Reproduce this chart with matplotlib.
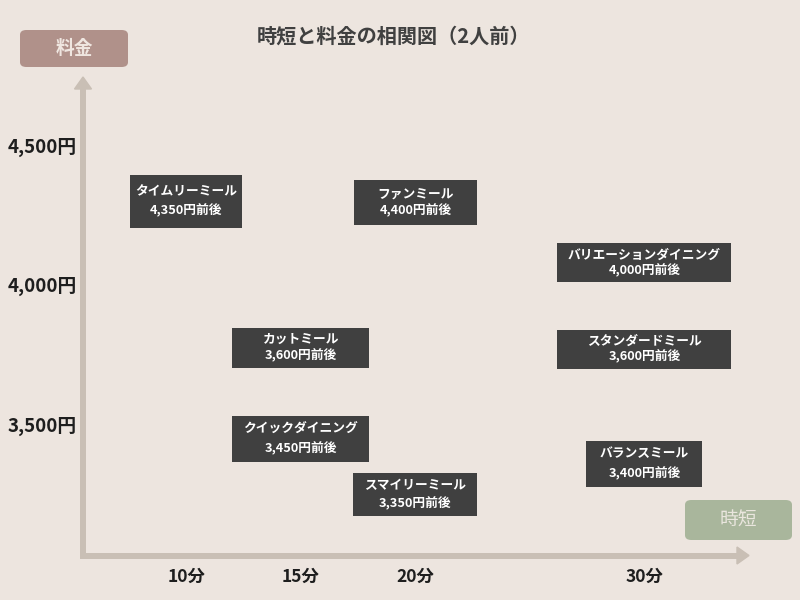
import matplotlib
matplotlib.use("Agg")
import matplotlib.pyplot as plt
from matplotlib.patches import FancyBboxPatch, Polygon, Rectangle
from matplotlib.lines import Line2D

plt.rcParams['font.family'] = ['Noto Sans CJK JP', 'DejaVu Sans']

# ---- data ----
title = "時短と料金の相関図（2人前）"
names = ["タイムリーミール", "ファンミール", "バリエーションダイニング", "カットミール",
         "スタンダードミール", "クイックダイニング", "スマイリーミール", "バランスミール"]
minutes = [10, 20, 30, 15, 30, 15, 20, 30]
# price stated in each box label
prices = [4350, 4400, 4000, 3600, 3600, 3450, 3350, 3400]
# where each box sits on the price axis
price_pos = [4305, 4300, 4085, 3780, 3775, 3455, 3255, 3365]
x_ticks = [10, 15, 20, 30]
x_tick_labels = ["10分", "15分", "20分", "30分"]
y_ticks = [4500, 4000, 3500]
y_tick_labels = ["4,500円", "4,000円", "3,500円"]
y_axis_title = "料金"
x_axis_title = "時短"

# ---- style ----
BG = "#EDE5DF"
AXC = "#C9BFB5"
BOX = "#404040"
W, H = 800, 600
box_w_px = [112, 123, 174, 137, 174, 137, 124, 116]
box_h_px = [53, 45, 39, 40, 39, 46, 43, 46]
line_sp = [1.45, 1.3, 1.2, 1.25, 1.2, 1.75, 1.45, 1.65]

fig = plt.figure(figsize=(8, 6), dpi=100, facecolor=BG)
ax = fig.add_axes([0, 0, 1, 1])
ax.set_facecolor(BG)
ax.set_xlim(1.86, 36.79)
ax.set_ylim(2876.4, 5026.9)
ax.axis('off')


def fx(px):
    return px / W


def fy(py):
    return 1 - py / H


# axes arrows (decoration, in figure fractions)
lw = 4.3
fig.add_artist(Line2D([fx(83), fx(83)], [fy(558), fy(87)], color=AXC, lw=lw,
                      solid_capstyle='butt', transform=fig.transFigure))
fig.add_artist(Line2D([fx(80), fx(738)], [fy(555.5), fy(555.5)], color=AXC, lw=lw,
                      solid_capstyle='butt', transform=fig.transFigure))
fig.add_artist(Polygon([[fx(74.5), fy(89)], [fx(91.5), fy(89)], [fx(83), fy(77)]],
                       closed=True, color=AXC, transform=fig.transFigure))
fig.add_artist(Polygon([[fx(737), fy(547)], [fx(737), fy(564)], [fx(749), fy(555.5)]],
                       closed=True, color=AXC, transform=fig.transFigure))

# axis title boxes
fig.add_artist(FancyBboxPatch((fx(20), fy(67)), fx(108), 37 / H,
                              boxstyle="round,pad=0,rounding_size=0.008",
                              fc="#B0918A", ec="none", transform=fig.transFigure))
fig.text(fx(74), fy(48.5), y_axis_title, ha='center', va='center', fontsize=13.5,
         fontweight='bold', color="#EFE6E0")
fig.add_artist(FancyBboxPatch((fx(685), fy(540)), fx(107), 40 / H,
                              boxstyle="round,pad=0,rounding_size=0.008",
                              fc="#A9B69C", ec="none", transform=fig.transFigure))
fig.text(fx(738.5), fy(520), x_axis_title, ha='center', va='center', fontsize=13.5,
         color="#EAE6DE")

# title
fig.text(fx(393), fy(36), title, ha='center', va='center', fontsize=14.5,
         fontweight='bold', color="#404040")

# tick labels through data scales
ytr = ax.get_yaxis_transform()
for v, lab in zip(y_ticks, y_tick_labels):
    ax.text(fx(77), v, lab, transform=ytr, ha='right', va='center', fontsize=13.5,
            fontweight='bold', color="#1E1E1E")
xtr = ax.get_xaxis_transform()
for m, lab in zip(x_ticks, x_tick_labels):
    ax.text(m, fy(577), lab, transform=xtr, ha='center', va='center', fontsize=12.5,
            fontweight='bold', color="#1E1E1E")

# labelled boxes: centred on the data point, sized in pixels
for n, m, p, yp, bw, bh, ls in zip(names, minutes, prices, price_pos,
                                   box_w_px, box_h_px, line_sp):
    cx, cy = ax.transData.transform((m, yp))
    ax.add_patch(Rectangle(((cx - bw / 2) / W, (cy - bh / 2) / H), bw / W, bh / H,
                           fc=BOX, ec='none', transform=fig.transFigure,
                           clip_on=False, zorder=2))
    ax.text(m, yp, f"{n}\n{p:,}円前後", ha='center', va='center', fontsize=9.2,
            fontweight='bold', color='white', linespacing=ls, zorder=5)

fig.savefig("out.png", dpi=100, facecolor=BG)
